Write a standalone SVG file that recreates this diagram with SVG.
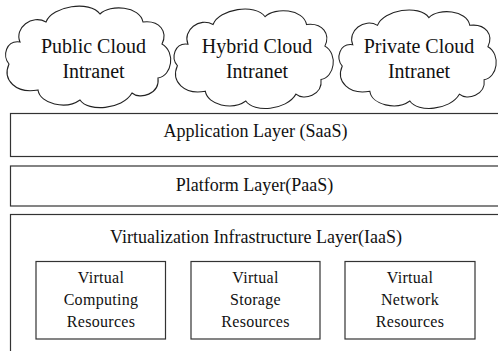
<svg xmlns="http://www.w3.org/2000/svg" width="498" height="351" viewBox="0 0 498 351">
<style>
.bg{fill:#fff}
.cloud{fill:#fff;stroke:#222;stroke-width:1.1;vector-effect:non-scaling-stroke}
.box{fill:#fff;stroke:#333;stroke-width:1.2}
.t{font-family:"Liberation Serif","Times New Roman",serif;fill:#111;text-anchor:middle}
.ct{font-size:20px}
.lt{font-size:18px}
.st{font-size:16px;letter-spacing:0.3px}
</style>
<defs>
<path id="cloudShape" d="M20,42 C14,28 32,14 46,22 C52,6 90,0 100,14 C110,4 140,6 143,22 C160,20 168,32 162,44 C176,52 172,76 158,78 C160,94 140,100 132,93 C122,110 88,112 80,100 C66,110 40,104 38,90 C16,94 2,80 9,64 C2,56 6,40 20,42 Z"/>
</defs>
<rect class="bg" x="0" y="0" width="498" height="351"/>
<g id="public-cloud">
<use href="#cloudShape" class="cloud"/>
<text class="t ct" x="93.5" y="53">Public Cloud</text>
<text class="t ct" x="93.5" y="78">Intranet</text>
</g>
<g id="hybrid-cloud">
<use href="#cloudShape" class="cloud" transform="translate(168.7,3) scale(0.964,0.98)"/>
<text class="t ct" x="257" y="53">Hybrid Cloud</text>
<text class="t ct" x="257" y="78">Intranet</text>
</g>
<g id="private-cloud">
<use href="#cloudShape" class="cloud" transform="translate(333.7,4) scale(0.952,0.97)"/>
<text class="t ct" x="419" y="53">Private Cloud</text>
<text class="t ct" x="419" y="78">Intranet</text>
</g>
<g id="application-layer">
<rect class="box" x="10.5" y="113.5" width="500" height="43"/>
<text class="t lt" x="255.5" y="137">Application Layer (SaaS)</text>
</g>
<g id="platform-layer">
<rect class="box" x="10.5" y="166" width="500" height="40"/>
<text class="t lt" x="254.5" y="191">Platform Layer(PaaS)</text>
</g>
<g id="iaas-layer">
<rect class="box" x="10.5" y="214.5" width="500" height="150"/>
<text class="t lt" x="256" y="243">Virtualization Infrastructure Layer(IaaS)</text>
</g>
<g id="virtual-computing">
<rect class="box" x="36" y="261.5" width="129.5" height="77.5"/>
<text class="t st" x="101" y="283">Virtual</text>
<text class="t st" x="101" y="305">Computing</text>
<text class="t st" x="101" y="327">Resources</text>
</g>
<g id="virtual-storage">
<rect class="box" x="191" y="261.5" width="129" height="77.5"/>
<text class="t st" x="255.5" y="283">Virtual</text>
<text class="t st" x="255.5" y="305">Storage</text>
<text class="t st" x="255.5" y="327">Resources</text>
</g>
<g id="virtual-network">
<rect class="box" x="345" y="261.5" width="130" height="77.5"/>
<text class="t st" x="410" y="283">Virtual</text>
<text class="t st" x="410" y="305">Network</text>
<text class="t st" x="410" y="327">Resources</text>
</g>
<g id="connectors"></g>
</svg>
